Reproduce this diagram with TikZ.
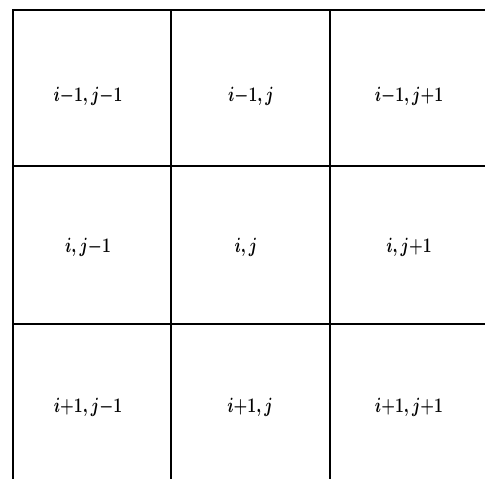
\documentclass[tikz,border=0pt]{standalone}
\begin{document}
\begin{tikzpicture}[x=1pt,y=-1pt,
  gridline/.style={line width=2.2pt,black},
  cell/.style={anchor=base,inner sep=0pt,font=\fontsize{20.74}{24}\selectfont\boldmath,xscale=0.76,transform shape}]
\useasboundingbox (0,0) rectangle (485,479);
% grid
\draw[gridline] (13,479) -- (13,10) -- (485,10);
\draw[gridline] (171,10) -- (171,479);
\draw[gridline] (330,10) -- (330,479);
\draw[gridline] (13,166) -- (485,166);
\draw[gridline] (13,324) -- (485,324);
% labels
\node[cell] (c11) at (88,101) {$i{-}1,j{-}1$};
\node[cell] (c12) at (251,101) {$i{-}1,j$};
\node[cell] (c13) at (409,101) {$i{-}1,j{+}1$};
\node[cell] (c21) at (88,252) {$i,j{-}1$};
\node[cell] (c22) at (246,252) {$i,j$};
\node[cell] (c23) at (409,252) {$i,j{+}1$};
\node[cell] (c31) at (88,412) {$i{+}1,j{-}1$};
\node[cell] (c32) at (250,412) {$i{+}1,j$};
\node[cell] (c33) at (409,412) {$i{+}1,j{+}1$};
\end{tikzpicture}
\end{document}
